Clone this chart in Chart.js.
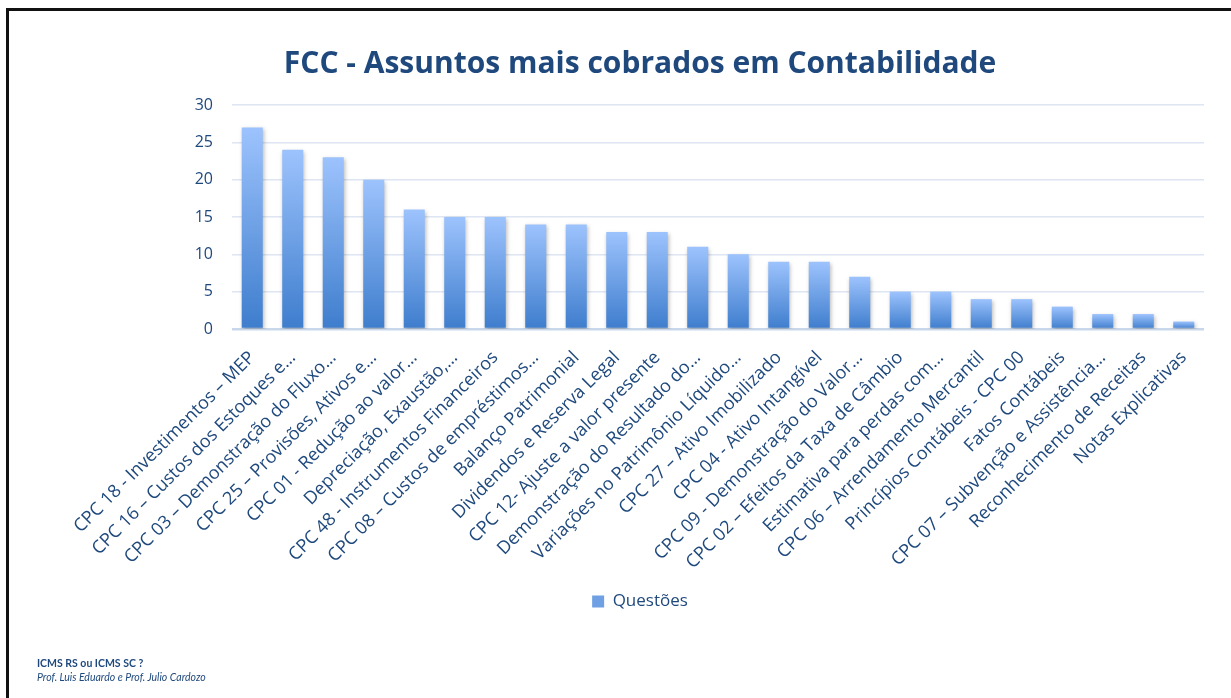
<!DOCTYPE html>
<html>
<head>
<meta charset="utf-8">
<script src="https://cdn.jsdelivr.net/npm/chart.js@4.4.1/dist/chart.umd.min.js"></script>
<style>
  html, body { margin: 0; padding: 0; background: #fff; }
  #wrap { position: relative; width: 1231px; height: 698px; overflow: hidden; }
  #frame { position: absolute; left: 6px; top: 8px; right: -10px; bottom: -10px;
           border-top: 3px solid #111; border-left: 3px solid #111; }
  canvas { position: absolute; left: 0; top: 0; }
  .note { position: absolute; left: 37px; font-family: Lato, sans-serif; font-size: 10.5px; color: #1F497D; }
</style>
</head>
<body>
<div id="wrap">
  <div id="frame"></div>
  <canvas id="chart" width="1231" height="698"></canvas>
  <div class="note" style="top:657px;font-weight:bold;">ICMS RS ou ICMS SC ?</div>
  <div class="note" style="top:671px;font-style:italic;">Prof. Luis Eduardo e Prof. Julio Cardozo</div>
</div>
<script>
// data
const categories = [
  'CPC 18 - Investimentos – MEP',
  'CPC 16 – Custos dos Estoques e…',
  'CPC 03 – Demonstração do Fluxo…',
  'CPC 25 – Provisões, Ativos e…',
  'CPC 01 - Redução ao valor…',
  'Depreciação, Exaustão,…',
  'CPC 48 - Instrumentos Financeiros',
  'CPC 08 – Custos de empréstimos…',
  'Balanço Patrimonial',
  'Dividendos e Reserva Legal',
  'CPC 12- Ajuste a valor presente',
  'Demonstração do Resultado do…',
  'Variações no Patrimônio Líquido…',
  'CPC 27 – Ativo Imobilizado',
  'CPC 04 - Ativo Intangível',
  'CPC 09 - Demonstração do Valor…',
  'CPC 02 – Efeitos da Taxa de Câmbio',
  'Estimativa para perdas com…',
  'CPC 06 – Arrendamento Mercantil',
  'Princípios Contábeis - CPC 00',
  'Fatos Contábeis',
  'CPC 07 – Subvenção e Assistência…',
  'Reconhecimento de Receitas',
  'Notas Explicativas'
];
const questoes = [27, 24, 23, 20, 16, 15, 15, 14, 14, 13, 13, 11, 10, 9, 9, 7, 5, 5, 4, 4, 3, 2, 2, 1];
const yTicks = [0, 5, 10, 15, 20, 25, 30];

const navy = '#1F497D';
const font = 'Open Sans';

// vertical gradient per bar, light on top
function barFill(c) {
  const chart = c.chart;
  if (!chart.chartArea || c.dataIndex === undefined) return '#6FA0E4';
  const y = chart.scales.y;
  const g = chart.ctx.createLinearGradient(0, y.getPixelForValue(c.raw), 0, y.getPixelForValue(0));
  g.addColorStop(0, '#9DC3FD');
  g.addColorStop(1, '#3E7DCD');
  return g;
}

// soft drop shadow under the bars
const barShadow = {
  id: 'barShadow',
  beforeDatasetsDraw(chart) {
    const ctx = chart.ctx;
    ctx.save();
    ctx.shadowColor = 'rgba(0,0,0,0.28)';
    ctx.shadowBlur = 4;
    ctx.shadowOffsetX = 1;
    ctx.shadowOffsetY = 2;
  },
  afterDatasetsDraw(chart) {
    chart.ctx.restore();
  }
};

const ctx = document.getElementById('chart').getContext('2d');
new Chart(ctx, {
  type: 'bar',
  data: {
    labels: categories,
    datasets: [{
      label: 'Questões',
      data: questoes,
      backgroundColor: barFill,
      categoryPercentage: 1,
      barPercentage: 0.52
    }]
  },
  plugins: [barShadow],
  options: {
    responsive: false,
    animation: false,
    layout: { padding: { left: 76, right: 27, top: 0, bottom: 78 } },
    plugins: {
      title: {
        display: true,
        text: 'FCC - Assuntos mais cobrados em Contabilidade',
        color: navy,
        font: { family: font, size: 30, weight: 'bold' },
        padding: { top: 46, bottom: 23 }
      },
      legend: {
        position: 'bottom',
        labels: {
          color: navy,
          font: { family: font, size: 17 },
          boxWidth: 12,
          boxHeight: 12,
          padding: 10,
          generateLabels: () => [{
            text: 'Questões', fillStyle: '#6FA0E4', strokeStyle: '#6FA0E4',
            lineWidth: 0, datasetIndex: 0, fontColor: navy
          }]
        }
      },
      tooltip: { enabled: false }
    },
    scales: {
      x: {
        grid: { display: false },
        border: { display: false },
        ticks: {
          color: navy,
          font: { family: font, size: 18 },
          minRotation: 45,
          maxRotation: 45,
          autoSkip: false,
          padding: 10
        },
        afterFit: s => { s.height = 254; }
      },
      y: {
        min: 0,
        max: 30,
        afterBuildTicks: s => { s.ticks = yTicks.map(v => ({ value: v })); },
        grid: {
          drawTicks: false,
          color: c => c.tick.value === 0 ? '#C8D7EC' : '#DDE6F2',
          lineWidth: c => c.tick.value === 0 ? 2.5 : 1.5
        },
        border: { display: false },
        ticks: {
          color: navy,
          font: { family: font, size: 16 },
          padding: 19
        },
        afterFit: s => { s.width = 156; }
      }
    }
  }
});
</script>
</body>
</html>
